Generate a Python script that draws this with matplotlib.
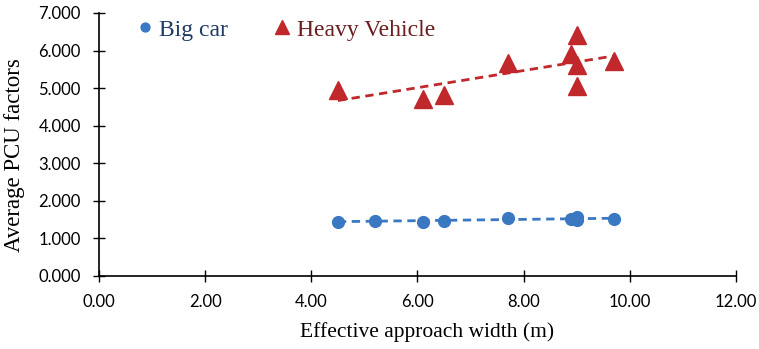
import matplotlib.pyplot as plt
import numpy as np

# Effective approach width (m) and average PCU factors
width = [4.5, 5.2, 6.1, 6.5, 7.7, 8.9, 9.0, 9.0, 9.7]
big_car = [1.45, 1.47, 1.45, 1.46, 1.54, 1.52, 1.56, 1.50, 1.52]

hv_width = [4.5, 6.1, 6.5, 7.7, 8.9, 9.0, 9.0, 9.0, 9.7]
heavy = [4.94, 4.71, 4.83, 5.66, 5.91, 6.41, 5.62, 5.05, 5.72]

xticks = [0, 2, 4, 6, 8, 10, 12]
yticks = [0, 1, 2, 3, 4, 5, 6, 7]

blue = "#3A78C2"
red = "#C0282C"

fig = plt.figure(figsize=(7.59, 3.49), dpi=100)
ax = fig.add_axes([0.1304, 0.2092, 0.8393, 0.7536])

ax.plot(width, big_car, "o", color=blue, markersize=8.5, label="Big car", zorder=3)
ax.plot(hv_width, heavy, "^", color=red, markersize=12.5, label="Heavy Vehicle", zorder=3)

# linear trend lines
bc_fit = np.poly1d(np.polyfit(width, big_car, 1))
hv_fit = np.poly1d(np.polyfit(hv_width, heavy, 1))
xb = np.array([min(width), max(width)])
xh = np.array([min(hv_width), max(hv_width)])
ax.plot(xb, bc_fit(xb), "--", color=blue, linewidth=2, dashes=(3, 2))
ax.plot(xh, hv_fit(xh), "--", color=red, linewidth=2, dashes=(3, 2))

ax.set_xlim(0, 12)
ax.set_ylim(0, 7)
ax.set_xticks(xticks)
ax.set_yticks(yticks)
ax.set_xticklabels(["{:.2f}".format(x) for x in xticks], fontfamily="Lato", fontsize=12)
ax.set_yticklabels(["{:.3f}".format(y) for y in yticks], fontfamily="Lato", fontsize=12)
ax.tick_params(direction="inout", length=8, width=1)
ax.tick_params(axis="y", pad=9)
ax.tick_params(axis="x", pad=9)

for s in ["top", "right"]:
    ax.spines[s].set_visible(False)
for s in ["left", "bottom"]:
    ax.spines[s].set_linewidth(1.2)

ax.set_xlabel("Effective approach width (m)", fontfamily="Liberation Serif", fontsize=15.5, labelpad=9)
ax.set_ylabel("Average PCU factors", fontfamily="Liberation Serif", fontsize=16.5, labelpad=10)
ax.xaxis.label.set_x(0.515)
ax.yaxis.label.set_y(0.46)

leg = ax.legend(loc="upper left", bbox_to_anchor=(0.028, 1.058), ncol=2, frameon=False,
                prop={"family": "Liberation Serif", "size": 17}, handlelength=0.6,
                handletextpad=0.3, columnspacing=2.0, markerscale=0.75)
leg.get_texts()[0].set_color("#1F3A64")
leg.get_texts()[1].set_color("#6B1E1E")

fig.savefig("out.png", dpi=100)
